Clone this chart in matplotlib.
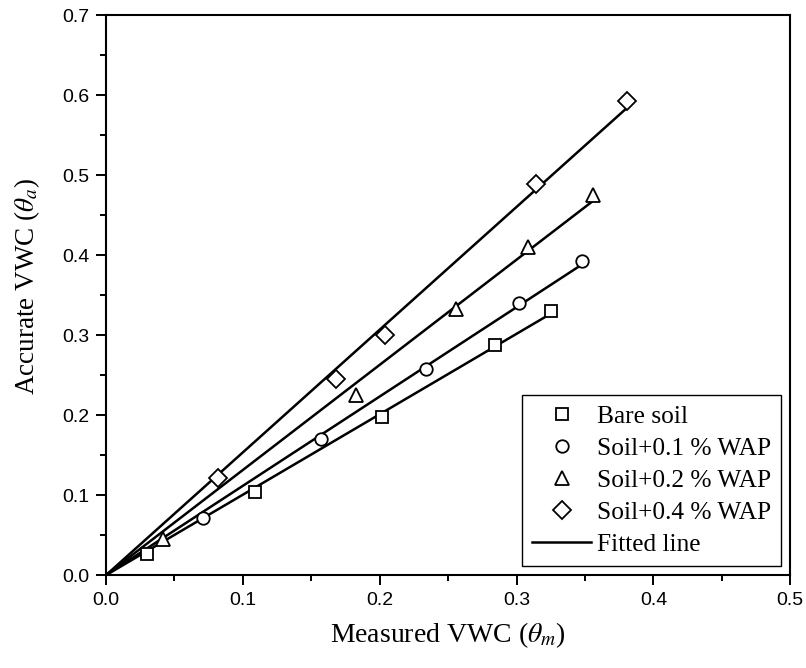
import numpy as np
import matplotlib.pyplot as plt

bare_x = [0.030, 0.109, 0.202, 0.284, 0.325]
bare_y = [0.026, 0.104, 0.198, 0.288, 0.330]

wap01_x = [0.071, 0.157, 0.234, 0.302, 0.348]
wap01_y = [0.072, 0.170, 0.258, 0.340, 0.392]

wap02_x = [0.042, 0.183, 0.256, 0.308, 0.356]
wap02_y = [0.045, 0.225, 0.333, 0.410, 0.475]

wap04_x = [0.082, 0.168, 0.204, 0.314, 0.381]
wap04_y = [0.121, 0.245, 0.300, 0.489, 0.592]

labels = ['Bare soil', 'Soil+0.1 % WAP', 'Soil+0.2 % WAP', 'Soil+0.4 % WAP']
markers = ['s', 'o', '^', 'D']
msizes = [8, 9, 10, 9]

series = [(bare_x, bare_y), (wap01_x, wap01_y), (wap02_x, wap02_y), (wap04_x, wap04_y)]

plt.rcParams['mathtext.fontset'] = 'stix'
serif = 'Liberation Serif'
sans = 'Liberation Sans'

fig = plt.figure(figsize=(8.06, 6.68), dpi=100)
ax = fig.add_axes([0.1315, 0.139, 0.849, 0.8385])

# pontos
for (x, y), lab, m, ms in zip(series, labels, markers, msizes):
    ax.plot(x, y, ls='none', marker=m, ms=ms, mfc='white', mec='black',
            mew=1.3, label=lab, zorder=3)

# retas ajustadas passando pela origem
for i, (x, y) in enumerate(series):
    x = np.array(x)
    y = np.array(y)
    k = np.sum(x * y) / np.sum(x * x)
    xx = np.array([0, x.max()])
    ax.plot(xx, k * xx, color='black', lw=1.8,
            label='Fitted line' if i == 0 else None, zorder=2)

ax.set_xlim(0, 0.5)
ax.set_ylim(0, 0.7)
ax.set_xticks(np.arange(0, 0.51, 0.1))
ax.set_yticks(np.arange(0, 0.71, 0.1))
ax.set_xticks(np.arange(0.05, 0.5, 0.1), minor=True)
ax.set_yticks(np.arange(0.05, 0.7, 0.1), minor=True)
ax.xaxis.set_major_formatter(plt.FormatStrFormatter('%.1f'))
ax.yaxis.set_major_formatter(plt.FormatStrFormatter('%.1f'))

ax.tick_params(which='major', direction='out', length=7, width=1.4, labelsize=14, pad=5)
ax.tick_params(which='minor', direction='out', length=4, width=1.4)
for t in ax.get_xticklabels() + ax.get_yticklabels():
    t.set_family(sans)
for s in ax.spines.values():
    s.set_linewidth(1.5)

ax.set_xlabel(r'Measured VWC ($\theta_m$)', family=serif, fontsize=20, labelpad=8)
ax.set_ylabel(r'Accurate VWC ($\theta_a$)', family=serif, fontsize=19.5)
ax.yaxis.set_label_coords(-0.094, 0.515)

leg = ax.legend(loc='lower right', prop={'family': serif, 'size': 18.3},
                frameon=True, fancybox=False, edgecolor='black', framealpha=1,
                handlelength=2.3, handletextpad=0.25, labelspacing=0.36,
                borderpad=0.4, borderaxespad=0.35)
leg.get_frame().set_linewidth(1.0)

fig.savefig('out.png', dpi=100)
